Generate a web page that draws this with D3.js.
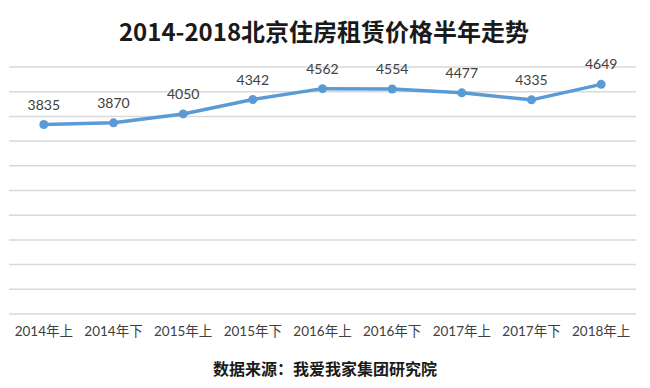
<!DOCTYPE html>
<html><head><meta charset="utf-8">
<script src="https://cdn.jsdelivr.net/npm/d3@7"></script>
<style>html,body{margin:0;padding:0;background:#fff;}svg{display:block;}</style>
</head><body>
<svg id="chart" width="650" height="388"></svg>
<script>
const categories = ["2014年上","2014年下","2015年上","2015年下","2016年上","2016年下","2017年上","2017年下","2018年上"];
const values = [3835, 3870, 4050, 4342, 4562, 4554, 4477, 4335, 4649];
const yTicks = [0,500,1000,1500,2000,2500,3000,3500,4000,4500,5000];
const titleText = "2014-2018北京住房租赁价格半年走势";
const sourceText = "数据来源：我爱我家集团研究院";

const svg = d3.select("#chart");
const W = 650, H = 388;
const m = {left: 9, right: 14, top: 67, bottom: 74};
const x = d3.scaleBand().domain(categories).range([m.left, W - m.right]);
const y = d3.scaleLinear().domain([0, 5000]).range([H - m.bottom, m.top]);
const cx = d => x(d) + x.bandwidth() / 2;

// gridlines
svg.append("g").selectAll("line").data(yTicks).join("line")
  .attr("x1", m.left).attr("x2", W - m.right)
  .attr("y1", d => y(d)).attr("y2", d => y(d))
  .attr("stroke", "#d9d9d9").attr("stroke-width", 1.5);

// x axis labels
const xa = svg.append("g").attr("transform", `translate(0,${H - m.bottom})`)
  .call(d3.axisBottom(x).tickSize(0).tickPadding(12));
xa.select(".domain").remove();
xa.selectAll("text").attr("font-family", "Lato, 'Noto Sans CJK SC', sans-serif")
  .attr("font-size", 13.5).attr("fill", "#404040");

const data = categories.map((c, i) => ({c, v: values[i]}));

svg.append("path").datum(data)
  .attr("fill", "none").attr("stroke", "#5b9bd5").attr("stroke-width", 3.5)
  .attr("stroke-linejoin", "round")
  .attr("d", d3.line().x(d => cx(d.c)).y(d => y(d.v)));

svg.append("g").selectAll("circle").data(data).join("circle")
  .attr("cx", d => cx(d.c)).attr("cy", d => y(d.v)).attr("r", 4.5)
  .attr("fill", "#5b9bd5");

svg.append("g").selectAll("text").data(data).join("text")
  .attr("x", d => cx(d.c)).attr("y", d => y(d.v) - 15)
  .attr("text-anchor", "middle")
  .attr("font-family", "Lato, 'Noto Sans CJK SC', sans-serif")
  .attr("font-size", 14).attr("fill", "#404040")
  .text(d => d.v);

svg.append("text").attr("x", 324).attr("y", 41).attr("text-anchor", "middle")
  .attr("font-family", "'Noto Sans CJK SC', sans-serif").attr("font-weight", "bold")
  .attr("font-size", 24).attr("fill", "#1a1a1a").text(titleText);

svg.append("text").attr("x", 325).attr("y", 375).attr("text-anchor", "middle")
  .attr("font-family", "'Noto Sans CJK SC', sans-serif").attr("font-weight", "bold")
  .attr("font-size", 16).attr("fill", "#1a1a1a").text(sourceText);
</script>
</body></html>
